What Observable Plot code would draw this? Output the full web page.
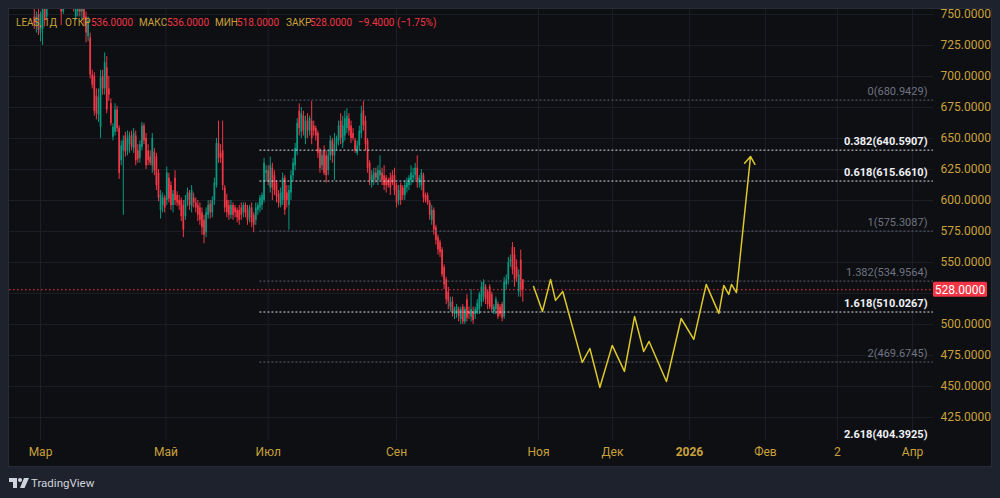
<!DOCTYPE html>
<html><head><meta charset="utf-8">
<script src="https://cdn.jsdelivr.net/npm/d3@7"></script>
<script src="https://cdn.jsdelivr.net/npm/@observablehq/plot@0.6"></script>
<style>
html,body{margin:0;padding:0;background:#1e222d;width:1000px;height:498px;overflow:hidden;font-family:Roboto,"Noto Sans",sans-serif;}
#frame{position:absolute;left:8px;top:8px;width:982px;height:457px;background:#0e0f13;border:1px solid #282c37;}
#chart{position:absolute;left:0;top:0;}
#legend{position:absolute;left:0;top:0;width:1000px;height:40px;font-size:11.5px;}
#legend span{position:absolute;top:16px;line-height:13px;white-space:pre;transform:scaleX(0.87);transform-origin:0 50%;}
.lab{color:#c9a13b;}
.val{color:#f23645;}
#brand{position:absolute;left:9px;top:476px;height:14px;display:flex;align-items:center;color:#d1d4dc;font-size:11.5px;}
</style></head>
<body>
<div id="frame"></div>
<div id="chart"></div>
<div id="legend"></div>
<div id="brand"><svg width="20" height="10" viewBox="0 0 20 10"><path d="M0 0H8V10H4V4H0Z" fill="#d1d4dc"/><circle cx="11" cy="2" r="2" fill="#d1d4dc"/><path d="M15 0H20L15.5 10H11Z" fill="#d1d4dc"/></svg><span style="margin-left:2px">TradingView</span></div>
<script>
// ---- data ----
const symbol = "LEAS, 1Д";
const legendLabels = ["ОТКР", "МАКС", "МИН", "ЗАКР"];
const legendValues = [536, 536, 518, 528];
const legendChange = "−9.4000 (−1.75%)";
const lastPrice = 528;

const startIndex = -3; // bar index of the first candle (0 = 1 March)
const opens = [
748,742,750,735,738,757,748,762,768,765,
770,766,768,762,752,764,770,768,766,762,
748,752,760,752,758,748,732,731,701,700,
684,669,659,700,690,707,690,678,651,655,
673,658,632,640,652,640,645,652,642,652,
640,634,643,660,650,640,635,628,639,635,
622,592,596,602,600,618,612,596,618,604,
600,600,596,587,600,606,595,602,598,596,
594,590,584,574,588,597,590,600,612,646,
638,640,610,600,596,588,596,594,592,592,
594,590,596,592,586,594,588,584,592,594,
596,600,622,624,610,626,620,614,605,596,
600,618,606,596,606,620,628,640,672,655,
668,650,664,656,664,660,658,654,640,628,
640,636,624,636,648,636,645,648,664,646,
652,658,666,660,654,648,638,644,654,672,
664,648,630,614,616,622,616,620,622,620,
618,616,618,620,620,612,600,612,610,604,
610,612,616,618,620,626,614,612,620,604,
604,598,584,592,578,570,566,560,546,536,
526,514,518,508,508,512,504,514,502,520,
510,506,510,508,510,512,518,522,530,526,
530,524,510,512,516,514,516,506,532,536,
550,562,556,546,526,552,536];
const highs = [
756,752,757,752,758,762,764,770,774,772,
776,772,771,766,768,772,776,774,770,766,
762,765,765,758,762,752,748,735,705,703,
690,690,705,705,719,716,700,682,662,678,
676,660,648,652,655,656,655,656,658,656,
645,648,663,662,654,645,640,654,642,638,
625,608,606,604,627,622,615,608,624,607,
604,602,600,604,610,608,612,606,602,600,
598,594,588,594,600,600,603,618,650,664,
645,664,612,605,600,600,598,596,594,596,
598,598,598,596,596,598,590,598,598,604,
606,634,628,628,635,630,624,616,608,610,
622,620,612,612,624,634,646,666,678,675,
672,668,670,668,680,664,660,656,642,640,
644,640,640,652,650,654,652,664,670,668,
672,674,670,664,658,650,648,660,676,680,
668,650,632,624,626,626,628,636,626,628,
620,618,622,624,626,614,612,614,612,616,
618,620,628,626,630,636,620,625,622,606,
606,600,596,594,580,572,568,562,548,538,
530,522,522,514,516,514,514,516,514,524,
514,528,514,514,520,526,534,536,532,528,
532,526,516,522,518,516,518,538,540,554,
556,566,562,552,544,560,536];
const lows = [
738,735,733,728,725,740,746,758,762,760,
764,760,758,741,750,760,764,762,758,752,
745,748,748,745,740,727,728,698,690,668,
665,663,650,685,685,670,680,660,648,652,
655,617,628,588,635,636,638,640,638,628,
630,630,640,645,625,628,628,622,620,608,
599,585,590,590,596,598,592,590,596,595,
592,583,570,584,595,592,590,594,590,583,
580,572,565,570,585,585,586,596,610,630,
630,608,590,586,584,585,584,586,582,580,
584,586,586,580,582,578,574,580,588,590,
592,598,615,612,606,600,604,598,594,594,
596,588,594,576,600,616,624,636,652,650,
652,645,650,652,645,652,648,634,622,624,
620,614,620,632,630,616,640,644,645,642,
648,654,652,646,648,638,636,640,650,656,
640,622,612,610,612,614,612,616,612,608,
606,610,604,612,604,594,596,596,600,600,
606,608,612,614,616,610,610,608,598,598,
596,584,580,572,564,556,554,538,528,516,
512,510,506,504,505,502,500,500,500,502,
504,502,500,504,508,508,514,518,516,512,
512,510,508,508,504,506,502,504,528,532,
546,540,530,534,522,522,518];
const closes = [
742,748,737,750,755,745,762,768,765,770,
766,768,762,752,764,770,768,766,762,758,
758,760,752,756,746,735,745,701,693,672,
670,683,699,690,711,673,685,662,659,673,
658,622,644,648,639,650,652,643,654,632,
633,645,660,648,628,632,630,650,624,612,
602,604,602,594,622,601,596,605,600,598,
596,587,576,600,606,596,608,598,594,588,
584,578,572,590,596,590,600,614,646,634,
634,612,594,590,588,596,588,590,586,584,
588,596,590,584,594,582,580,594,596,602,
604,630,624,615,628,610,608,603,598,606,
618,592,600,608,620,630,642,662,658,670,
656,664,656,666,650,656,652,638,626,636,
622,620,636,648,636,645,650,660,650,660,
666,668,656,650,650,640,644,656,670,660,
645,626,616,620,622,618,624,624,616,612,
612,612,610,614,608,598,608,600,604,612,
614,618,622,620,626,616,618,622,602,600,
598,588,592,576,568,560,558,540,532,520,
518,518,510,512,514,506,512,502,512,505,
508,512,503,512,517,524,530,534,520,516,
514,512,514,520,506,508,505,534,536,550,
552,544,536,538,540,528,528];

// Fibonacci extension levels
const fibRatios = [0, 0.382, 0.618, 1, 1.382, 1.618, 2, 2.618];
const fibPrices = [680.9429, 640.5907, 615.6610, 575.3087, 534.9564, 510.0267, 469.6745, 404.3925];
const fibEmphasis = [false, true, true, false, false, true, false, true];
const fibStartBar = 106;

// projected path (bar index, price)
const projBars = [238.2,242.5,246.4,248.8,252.3,261.7,265.4,270.2,276.2,282.1,287,291.4,294,302.4,309.5,315.6,321.6,327.7,330.1,332.5,333.8,336.2,343];
const projPrices = [530.6,510.5,536.3,519.4,526.6,469.4,480.6,449.2,483.1,462.1,506.5,478.2,486.3,454.0,504.8,487.9,532.3,508.9,531.5,524.2,532.3,525.8,635.5];

// axes
const priceGrid = [425,450,475,500,525,550,575,600,625,650,675,700,725,750];
const priceLabels = [425,450,475,500,550,575,600,625,650,675,700,725,750];
const timeTickBars = [0, 60.6, 110, 172, 240.6, 276.3, 313.5, 350.2, 385, 421.3];
const timeTickLabels = ["Мар","Май","Июл","Сен","Ноя","Дек","2026","Фев","2","Апр"];
const xDomain = [-14.98, 431.4];
const yDomain = [406.4, 754.03];

// ---- build ----
const up = "#089981", down = "#f23645", gold = "#c9a13b", yellow = "#dcc82c";
const n = Math.min(opens.length, highs.length, lows.length, closes.length);
const candles = d3.range(n).map(k => ({i: startIndex + k, o: opens[k], h: highs[k], l: lows[k], c: closes[k]}));
const fibs = fibRatios.map((r, k) => ({r, p: fibPrices[k], em: fibEmphasis[k]}));
const proj = projBars.map((x, k) => ({x, y: projPrices[k]}));
const projLine = proj.slice(0, proj.length - 1);
const lastSeg = [{x1: proj[proj.length-2].x, y1: proj[proj.length-2].y, x2: proj[proj.length-1].x, y2: proj[proj.length-1].y}];
const timeTicks = timeTickBars.map((x, k) => ({x, label: timeTickLabels[k]}));
const colorOf = d => d.c >= d.o ? up : down;

const plot = Plot.plot({
  width: 1000, height: 498,
  marginLeft: 9, marginRight: 67, marginTop: 9, marginBottom: 58,
  x: {type: "linear", domain: xDomain, axis: null},
  y: {type: "linear", domain: yDomain, axis: null},
  color: {type: "identity"},
  style: {background: "transparent", fontFamily: "Roboto, sans-serif", fontSize: "12px", overflow: "visible"},
  marks: [
    Plot.gridY(priceGrid, {stroke: "#1c1f26", strokeOpacity: 1}),
    Plot.gridX(timeTickBars, {stroke: "#1c1f26", strokeOpacity: 1}),
    Plot.ruleX(candles, {x: "i", y1: "l", y2: "h", stroke: colorOf, strokeWidth: 1, clip: true}),
    Plot.ruleX(candles, {x: "i", y1: "o", y2: d => d.c === d.o ? d.c + 0.8 : d.c, stroke: colorOf, strokeWidth: 1.7, clip: true}),
    Plot.ruleY(fibs.filter(d => !d.em), {y: "p", x1: fibStartBar, x2: xDomain[1], stroke: "#5d6170", strokeDasharray: "2,2", clip: true}),
    Plot.ruleY(fibs.filter(d => d.em), {y: "p", x1: fibStartBar, x2: xDomain[1], stroke: "#d9dce3", strokeDasharray: "2,2", clip: true}),
    Plot.ruleY([lastPrice], {stroke: "#f23645", strokeDasharray: "1.5,2.5"}),
    Plot.line(projLine, {x: "x", y: "y", stroke: yellow, strokeWidth: 1.5}),
    Plot.arrow(lastSeg, {x1: "x1", y1: "y1", x2: "x2", y2: "y2", stroke: yellow, strokeWidth: 1.5, headLength: 9, headAngle: 70}),
    Plot.text(fibs.filter(d => !d.em), {y: "p", frameAnchor: "right", dx: -6, dy: -9, textAnchor: "end", text: d => `${d.r}(${d.p.toFixed(4)})`, fill: "#6f7380", fontSize: 11}),
    Plot.text(fibs.filter(d => d.em), {y: "p", frameAnchor: "right", dx: -6, dy: -9, textAnchor: "end", text: d => `${d.r}(${d.p.toFixed(4)})`, fill: "#f0f2f5", fontSize: 11, fontWeight: "bold"}),
    Plot.text(priceLabels, {y: d => d, frameAnchor: "right", dx: 7, textAnchor: "start", text: d => d.toFixed(4), fill: gold, fontSize: 12}),
    Plot.text(timeTicks.filter(d => !/^\d{4}$/.test(d.label)), {x: "x", frameAnchor: "bottom", dy: 15, text: "label", fill: gold, fontSize: 12}),
    Plot.text(timeTicks.filter(d => /^\d{4}$/.test(d.label)), {x: "x", frameAnchor: "bottom", dy: 15, text: "label", fill: gold, fontSize: 12, fontWeight: "bold"})
  ]
});

// last price badge on the price axis
const yPx = plot.scale("y").apply(lastPrice);
const xRight = plot.scale("x").apply(xDomain[1]);
const g = d3.select(plot).append("g");
g.append("rect").attr("x", xRight).attr("y", yPx - 7.5).attr("width", 54).attr("height", 15).attr("rx", 1.5).attr("fill", "#f23645");
g.append("text").attr("x", xRight + 27).attr("y", yPx).attr("dy", "0.36em").attr("text-anchor", "middle")
  .attr("fill", "#ffffff").attr("font-size", 12).attr("font-family", "Roboto, sans-serif").text(lastPrice.toFixed(4));
document.getElementById("chart").appendChild(plot);

// legend line
const leg = document.getElementById("legend");
const parts = [
  {t: symbol, cls: "lab", x: 16},
  {t: legendLabels[0], cls: "lab", x: 65}, {t: legendValues[0].toFixed(4), cls: "val", x: 91},
  {t: legendLabels[1], cls: "lab", x: 139}, {t: legendValues[1].toFixed(4), cls: "val", x: 167},
  {t: legendLabels[2], cls: "lab", x: 215}, {t: legendValues[2].toFixed(4), cls: "val", x: 237},
  {t: legendLabels[3], cls: "lab", x: 286}, {t: legendValues[3].toFixed(4), cls: "val", x: 310},
  {t: legendChange, cls: "val", x: 358}
];
for (const p of parts) {
  const s = document.createElement("span");
  s.className = p.cls; s.style.left = p.x + "px"; s.textContent = p.t;
  leg.appendChild(s);
}
</script>
</body></html>
